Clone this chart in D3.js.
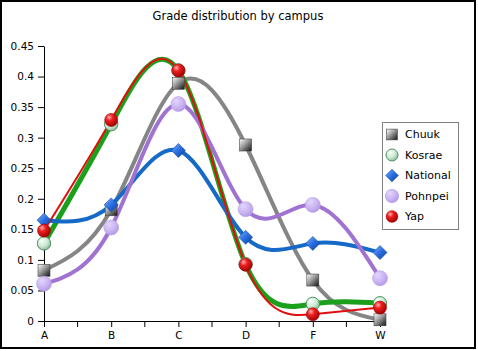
<!DOCTYPE html>
<html>
<head>
<meta charset="utf-8">
<script src="https://cdn.jsdelivr.net/npm/d3@7"></script>
<style>
  html, body { margin: 0; padding: 0; background: #fff; }
  svg { display: block; }
  text { font-family: "DejaVu Sans", sans-serif; fill: #000; }
</style>
</head>
<body>
<svg id="chart" width="478" height="351"></svg>
<script>
const categories = ["A", "B", "C", "D", "F", "W"];
const seriesNames = ["Chuuk", "Kosrae", "National", "Pohnpei", "Yap"];
const chuuk    = [0.083, 0.182, 0.389, 0.288, 0.067, 0.002];
const kosrae   = [0.127, 0.322, 0.410, 0.093, 0.028, 0.029];
const national = [0.165, 0.190, 0.279, 0.137, 0.127, 0.112];
const pohnpei  = [0.061, 0.153, 0.355, 0.183, 0.190, 0.070];
const yap      = [0.148, 0.329, 0.410, 0.092, 0.011, 0.022];
const yTicks = [0, 0.05, 0.1, 0.15, 0.2, 0.25, 0.3, 0.35, 0.4, 0.45];
const yTickLabels = ["0", "0.05", "0.1", "0.15", "0.2", "0.25", "0.3", "0.35", "0.4", "0.45"];
const title = "Grade distribution by campus";

const svg = d3.select("#chart");
const defs = svg.append("defs");

function radial(id, stops, cx = "35%", cy = "30%", r = "75%") {
  const g = defs.append("radialGradient").attr("id", id)
    .attr("cx", cx).attr("cy", cy).attr("r", r);
  stops.forEach(([o, c]) => g.append("stop").attr("offset", o).attr("stop-color", c));
}
function linear(id, stops) {
  const g = defs.append("linearGradient").attr("id", id)
    .attr("x1", "0%").attr("y1", "0%").attr("x2", "100%").attr("y2", "100%");
  stops.forEach(([o, c]) => g.append("stop").attr("offset", o).attr("stop-color", c));
}
linear("gChuuk", [["0%", "#ffffff"], ["45%", "#9a9a9a"], ["100%", "#111111"]]);
radial("gKosrae", [["0%", "#f4fff6"], ["55%", "#cfe9d6"], ["100%", "#86b894"]]);
linear("gNational", [["0%", "#7fb2ff"], ["50%", "#2a6ee0"], ["100%", "#0c3f9c"]]);
radial("gPohnpei", [["0%", "#e2d6fb"], ["60%", "#c9b3f2"], ["100%", "#b298e6"]]);
radial("gYap", [["0%", "#ffb0b0"], ["35%", "#f02020"], ["100%", "#9a0000"]]);

const series = [
  { name: "Chuuk",    values: chuuk,    color: "#858585", width: 4, grad: "gChuuk",    shape: "square" },
  { name: "Kosrae",   values: kosrae,   color: "#1aa01a", width: 5, grad: "gKosrae",   shape: "circleK" },
  { name: "National", values: national, color: "#1569c7", width: 4, grad: "gNational", shape: "diamond" },
  { name: "Pohnpei",  values: pohnpei,  color: "#a072d2", width: 4, grad: "gPohnpei",  shape: "circleP" },
  { name: "Yap",      values: yap,      color: "#e01010", width: 2, grad: "gYap",      shape: "circleY" }
];

// frame
svg.append("rect").attr("x", 1).attr("y", 1).attr("width", 474).attr("height", 347)
  .attr("fill", "#fff").attr("stroke", "#000").attr("stroke-width", 2);

// title
svg.append("text").attr("x", 238).attr("y", 20).attr("text-anchor", "middle")
  .style("font-size", "11.5px").text(title);

const x = d3.scalePoint().domain(categories).range([44, 380]);
const y = d3.scaleLinear().domain([0, 0.45]).range([321, 46]);

// y axis
const yAxis = d3.axisLeft(y).tickValues(yTicks)
  .tickFormat((d, i) => yTickLabels[i]).tickSize(6).tickPadding(4).tickSizeOuter(0);
const gy = svg.append("g").attr("transform", "translate(44,0)").call(yAxis);
gy.selectAll("text").style("font-size", "10.5px").attr("fill", "#000");
gy.selectAll("line,path").attr("stroke", "#000");

// x axis
const xAxis = d3.axisBottom(x).tickSize(6).tickPadding(5).tickSizeOuter(0);
const gx = svg.append("g").attr("transform", "translate(0,321)").call(xAxis);
gx.selectAll("text").style("font-size", "10.5px").attr("fill", "#000");
gx.selectAll("line,path").attr("stroke", "#000");
const mids = categories.slice(1).map((c, i) => (x(categories[i]) + x(c)) / 2);
gx.selectAll(".minor").data(mids).enter().append("line")
  .attr("x1", d => d).attr("x2", d => d).attr("y1", 0).attr("y2", 6).attr("stroke", "#000");

// lines
const line = d3.line().x((d, i) => x(categories[i])).y(d => y(d)).curve(d3.curveNatural);
series.forEach(s => {
  svg.append("path").datum(s.values).attr("d", line)
    .attr("fill", "none").attr("stroke", s.color).attr("stroke-width", s.width)
    .attr("stroke-linejoin", "round").attr("stroke-linecap", "round");
});

function drawMarker(g, shape, grad, cx, cy, scale = 1) {
  if (shape === "square") {
    const h = 6 * scale;
    g.append("rect").attr("x", cx - h).attr("y", cy - h).attr("width", 2 * h).attr("height", 2 * h)
      .attr("fill", `url(#${grad})`).attr("stroke", "#444").attr("stroke-width", 0.6);
  } else if (shape === "diamond") {
    const h = 7 * scale;
    g.append("path").attr("d", `M${cx},${cy - h}L${cx + h},${cy}L${cx},${cy + h}L${cx - h},${cy}Z`)
      .attr("fill", `url(#${grad})`).attr("stroke", "#0d4aa8").attr("stroke-width", 0.6);
  } else if (shape === "circleK") {
    g.append("circle").attr("cx", cx).attr("cy", cy).attr("r", 6.7 * scale)
      .attr("fill", `url(#${grad})`).attr("stroke", "#4f8f62").attr("stroke-width", 1);
  } else if (shape === "circleP") {
    g.append("circle").attr("cx", cx).attr("cy", cy).attr("r", 7.5 * scale)
      .attr("fill", `url(#${grad})`).attr("stroke", "#b9a0ea").attr("stroke-width", 0.6);
  } else if (shape === "circleY") {
    g.append("circle").attr("cx", cx).attr("cy", cy).attr("r", 6.5 * scale)
      .attr("fill", `url(#${grad})`).attr("stroke", "#a00000").attr("stroke-width", 0.6);
  }
}

series.forEach(s => {
  const g = svg.append("g");
  s.values.forEach((v, i) => drawMarker(g, s.shape, s.grad, x(categories[i]), y(v)));
});

// legend
const lg = svg.append("g");
lg.append("rect").attr("x", 382.5).attr("y", 122.5).attr("width", 76).attr("height", 107)
  .attr("fill", "#fff").attr("stroke", "#808080").attr("stroke-width", 1);
seriesNames.forEach((n, i) => {
  const s = series[i];
  const cy = 134.5 + i * 20.5;
  drawMarker(lg, s.shape, s.grad, 392, cy, 0.9);
  lg.append("text").attr("x", 405).attr("y", cy).attr("dy", "0.36em")
    .style("font-size", "11px").text(n);
});
</script>
</body>
</html>
